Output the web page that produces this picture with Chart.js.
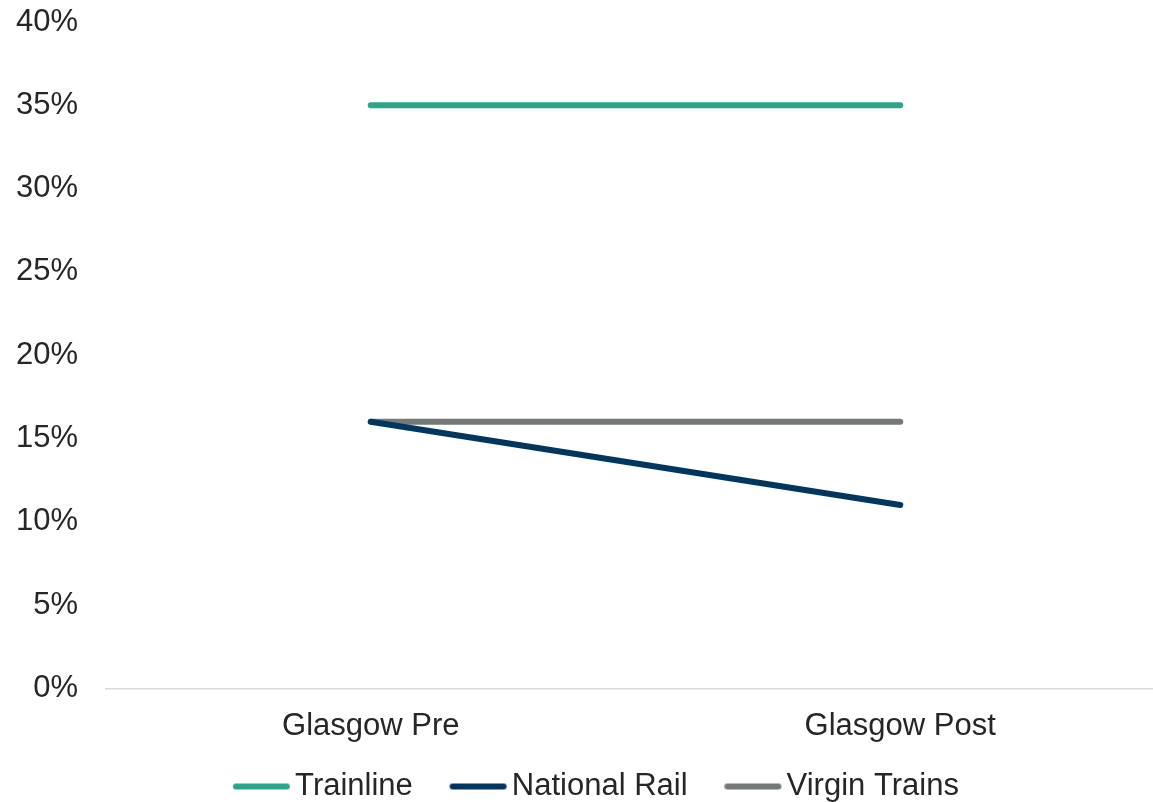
<!DOCTYPE html>
<html>
<head>
<meta charset="utf-8">
<script src="https://cdn.jsdelivr.net/npm/chart.js@4/dist/chart.umd.min.js"></script>
<style>
  html, body { margin: 0; padding: 0; background: #ffffff; overflow: hidden; }
  #wrap { width: 1165px; height: 802px; position: relative; }
</style>
</head>
<body>
<div id="wrap"><canvas id="c"></canvas></div>
<script>
const categories = ['Glasgow Pre', 'Glasgow Post'];
const trainline = [35, 35];
const nationalRail = [16, 11];
const virginTrains = [16, 16];
const seriesNames = ['Trainline', 'National Rail', 'Virgin Trains'];
const yTicks = [0, 5, 10, 15, 20, 25, 30, 35, 40];

const FONT = '"Liberation Sans", Arial, sans-serif';
const TEXT = '#262626';
const LW = 6;

// legend marker: a short round-capped line, placed toward the right of its box
function legendMarker(color) {
  const c = document.createElement('canvas');
  c.width = 96; c.height = 8;
  const g = c.getContext('2d');
  g.strokeStyle = color; g.lineWidth = LW; g.lineCap = 'round';
  g.beginPath(); g.moveTo(96 - 55, 4); g.lineTo(96 - 4, 4); g.stroke();
  return c;
}

function ds(label, data, color) {
  return {
    label, data,
    borderColor: color, backgroundColor: color,
    borderWidth: LW, borderCapStyle: 'round', borderJoinStyle: 'round',
    pointRadius: 0, pointHoverRadius: 0, tension: 0, fill: false,
    pointStyle: legendMarker(color)
  };
}

new Chart(document.getElementById('c'), {
  type: 'line',
  data: {
    labels: categories,
    datasets: [
      ds(seriesNames[0], trainline, '#2ba68b'),
      ds(seriesNames[1], nationalRail, '#00365f'),
      ds(seriesNames[2], virginTrains, '#747978')
    ]
  },
  options: {
    responsive: true,
    maintainAspectRatio: false,
    animation: false,
    layout: { padding: { top: 0, left: 0, right: 0, bottom: -10 } },
    plugins: {
      tooltip: { enabled: false },
      legend: {
        position: 'bottom',
        labels: {
          usePointStyle: true,
          pointStyleWidth: 73.5,
          boxHeight: 8,
          padding: 10,
          color: TEXT,
          font: { family: FONT, size: 31 }
        }
      }
    },
    scales: {
      x: {
        offset: true,
        afterFit: (s) => { s.height = 72.7; },
        grid: { display: false, drawTicks: false },
        border: { display: true, color: '#d9d9d9', width: 1.5 },
        ticks: { color: TEXT, font: { family: FONT, size: 31 }, padding: 19.4 }
      },
      y: {
        min: 0, max: 40,
        afterFit: (s) => { s.width = 106; s.paddingTop = 22; s.paddingBottom = 0; },
        afterBuildTicks: (s) => { s.ticks = yTicks.map(v => ({ value: v })); },
        grid: { display: false, drawTicks: false },
        border: { display: false },
        ticks: {
          color: TEXT, font: { family: FONT, size: 31 }, padding: 28,
          callback: (v) => v + '%'
        }
      }
    }
  }
});
</script>
</body>
</html>
